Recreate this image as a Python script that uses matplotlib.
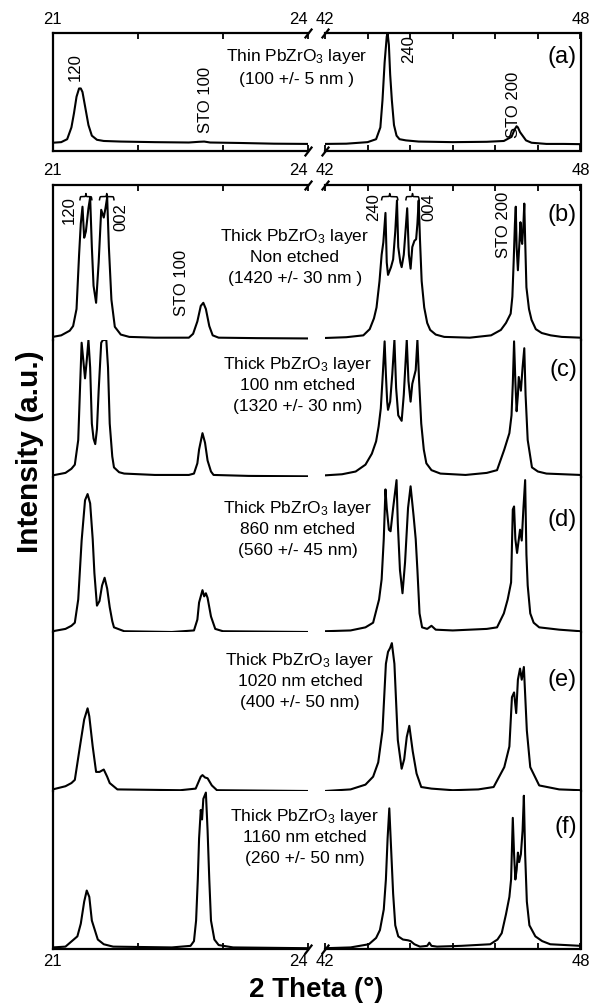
import numpy as np
import matplotlib
matplotlib.use("Agg")
import matplotlib.pyplot as plt
import matplotlib.transforms as mtransforms

plt.rcParams['font.family'] = ['Liberation Sans', 'DejaVu Sans']
plt.rcParams['mathtext.fontset'] = 'custom'
plt.rcParams['mathtext.rm'] = 'Liberation Sans'
plt.rcParams['mathtext.it'] = 'Liberation Sans'
plt.rcParams['mathtext.bf'] = 'Liberation Sans:bold'
plt.rcParams['mathtext.default'] = 'regular'

# ---------------- data (intensity in a.u., each trace scaled to its own band) ----------------
left_ticks = [21, 22, 23, 24]
right_ticks = [42, 43, 44, 45, 46, 47, 48]
left_tick_labels = {21: '21', 24: '24'}
right_tick_labels = {42: '42', 48: '48'}

# (a) thin layer
a_xL = [21.0, 21.1, 21.17, 21.22, 21.25, 21.28, 21.31, 21.33, 21.35, 21.38, 21.42, 21.46, 21.52, 21.6, 21.8, 22.2, 22.6, 22.72, 22.78, 22.85, 23.2, 23.6, 24.0]
a_yL = [0.07, 0.075, 0.10, 0.20, 0.32, 0.46, 0.53, 0.53, 0.50, 0.38, 0.22, 0.13, 0.095, 0.085, 0.08, 0.075, 0.072, 0.078, 0.08, 0.072, 0.068, 0.062, 0.06]
a_xR = [42.0, 42.5, 43.0, 43.2, 43.3, 43.35, 43.40, 43.45, 43.47, 43.50, 43.53, 43.57, 43.62, 43.68, 43.75, 43.9, 44.2, 45.0, 45.8, 46.2, 46.38, 46.45, 46.5, 46.53, 46.58, 46.64, 46.72, 46.85, 47.2, 47.6, 48.0]
a_yR = [0.06, 0.062, 0.075, 0.10, 0.20, 0.43, 0.75, 0.97, 1.0, 0.90, 0.65, 0.43, 0.22, 0.13, 0.10, 0.09, 0.08, 0.075, 0.078, 0.085, 0.12, 0.18, 0.21, 0.20, 0.16, 0.13, 0.09, 0.07, 0.06, 0.06, 0.058]

# (b) non etched
b_xL = [21.0, 21.1, 21.2, 21.24, 21.28, 21.31, 21.33, 21.35, 21.37, 21.39, 21.42, 21.44, 21.46, 21.48, 21.51, 21.54, 21.57, 21.60, 21.62, 21.64, 21.66, 21.69, 21.73, 21.8, 21.9, 22.2, 22.6, 22.65, 22.70, 22.74, 22.77, 22.80, 22.84, 22.88, 22.95, 23.4, 24.0]
b_yL = [0.02, 0.03, 0.06, 0.09, 0.20, 0.55, 0.75, 0.86, 0.66, 0.70, 0.85, 0.92, 0.60, 0.35, 0.24, 0.50, 0.84, 0.79, 0.85, 0.92, 0.60, 0.26, 0.085, 0.035, 0.02, 0.015, 0.015, 0.04, 0.12, 0.22, 0.24, 0.20, 0.09, 0.03, 0.015, 0.012, 0.01]
b_xR = [42.0, 42.5, 42.9, 43.05, 43.15, 43.21, 43.28, 43.33, 43.37, 43.42, 43.45, 43.48, 43.55, 43.60, 43.65, 43.69, 43.72, 43.77, 43.80, 43.85, 43.89, 43.93, 43.97, 44.01, 44.05, 44.10, 44.14, 44.17, 44.20, 44.23, 44.27, 44.33, 44.40, 44.47, 44.6, 44.8, 45.4, 45.9, 46.13, 46.25, 46.36, 46.40, 46.43, 46.46, 46.48, 46.50, 46.53, 46.56, 46.59, 46.61, 46.63, 46.66, 46.68, 46.70, 46.73, 46.79, 46.85, 46.95, 47.09, 47.3, 47.56, 48.0]
b_yR = [0.013, 0.018, 0.03, 0.07, 0.14, 0.21, 0.38, 0.55, 0.63, 0.82, 0.50, 0.42, 0.47, 0.52, 0.70, 0.90, 0.60, 0.50, 0.47, 0.55, 0.70, 0.85, 0.55, 0.46, 0.60, 0.64, 0.65, 0.75, 0.90, 0.65, 0.38, 0.21, 0.11, 0.065, 0.035, 0.02, 0.015, 0.03, 0.065, 0.11, 0.17, 0.28, 0.50, 0.75, 0.86, 0.60, 0.45, 0.60, 0.76, 0.65, 0.62, 0.75, 0.88, 0.65, 0.34, 0.20, 0.13, 0.07, 0.045, 0.03, 0.02, 0.015]

# (c) 100 nm etched
c_xL = [21.0, 21.15, 21.22, 21.26, 21.30, 21.32, 21.34, 21.36, 21.38, 21.40, 21.42, 21.44, 21.46, 21.48, 21.50, 21.52, 21.54, 21.57, 21.59, 21.63, 21.65, 21.67, 21.70, 21.72, 21.78, 21.84, 22.2, 22.6, 22.66, 22.70, 22.72, 22.76, 22.79, 22.82, 22.86, 22.89, 23.3, 24.0]
c_yL = [0.012, 0.03, 0.06, 0.09, 0.27, 0.63, 0.98, 0.85, 0.72, 0.85, 1.0, 0.80, 0.39, 0.28, 0.24, 0.35, 0.63, 0.98, 1.0, 1.0, 0.80, 0.39, 0.15, 0.07, 0.035, 0.025, 0.015, 0.015, 0.025, 0.10, 0.20, 0.32, 0.25, 0.12, 0.04, 0.015, 0.008, 0.005]
c_xR = [42.0, 42.4, 42.72, 42.95, 43.1, 43.2, 43.26, 43.31, 43.35, 43.40, 43.43, 43.46, 43.48, 43.53, 43.58, 43.63, 43.67, 43.72, 43.80, 43.85, 43.92, 43.96, 44.01, 44.05, 44.09, 44.13, 44.17, 44.21, 44.26, 44.32, 44.38, 44.5, 44.71, 45.3, 45.8, 46.04, 46.21, 46.33, 46.38, 46.41, 46.44, 46.47, 46.50, 46.53, 46.55, 46.60, 46.64, 46.68, 46.71, 46.76, 46.86, 47.0, 47.2, 48.0]
c_yR = [0.012, 0.02, 0.04, 0.09, 0.17, 0.26, 0.37, 0.50, 0.71, 0.99, 0.75, 0.55, 0.49, 0.55, 0.75, 1.0, 0.65, 0.45, 0.41, 0.60, 1.0, 0.70, 0.55, 0.68, 0.73, 0.78, 1.0, 0.70, 0.39, 0.20, 0.10, 0.05, 0.025, 0.015, 0.03, 0.05, 0.20, 0.32, 0.45, 0.68, 0.99, 0.70, 0.48, 0.60, 0.73, 0.63, 0.80, 0.94, 0.60, 0.27, 0.07, 0.04, 0.025, 0.015]

# (d) 860 nm etched
d_xL = [21.0, 21.15, 21.22, 21.26, 21.30, 21.34, 21.38, 21.41, 21.44, 21.47, 21.49, 21.52, 21.55, 21.58, 21.61, 21.64, 21.67, 21.70, 21.72, 21.84, 22.4, 22.66, 22.70, 22.72, 22.76, 22.78, 22.80, 22.82, 22.86, 22.91, 23.0, 24.0]
d_yL = [0.005, 0.02, 0.04, 0.06, 0.21, 0.59, 0.85, 0.89, 0.83, 0.60, 0.38, 0.17, 0.20, 0.30, 0.35, 0.28, 0.16, 0.07, 0.03, 0.005, 0.0, 0.01, 0.08, 0.19, 0.27, 0.23, 0.25, 0.22, 0.10, 0.02, 0.005, 0.0]
d_xR = [42.0, 42.6, 42.95, 43.13, 43.27, 43.33, 43.38, 43.42, 43.45, 43.50, 43.54, 43.60, 43.68, 43.71, 43.76, 43.82, 43.88, 43.95, 44.01, 44.08, 44.13, 44.17, 44.22, 44.28, 44.4, 44.5, 44.6, 45.0, 45.8, 46.04, 46.2, 46.29, 46.37, 46.41, 46.44, 46.47, 46.51, 46.58, 46.62, 46.66, 46.70, 46.73, 46.76, 46.82, 46.9, 47.03, 47.5, 48.0]
d_yR = [0.005, 0.01, 0.03, 0.06, 0.21, 0.34, 0.60, 0.92, 0.80, 0.66, 0.65, 0.80, 0.98, 0.70, 0.40, 0.25, 0.45, 0.80, 0.94, 0.75, 0.60, 0.40, 0.12, 0.03, 0.02, 0.04, 0.015, 0.01, 0.02, 0.03, 0.12, 0.21, 0.32, 0.79, 0.81, 0.60, 0.51, 0.66, 0.59, 0.80, 0.98, 0.50, 0.30, 0.12, 0.06, 0.03, 0.015, 0.005]

# (e) 1020 nm etched
e_xL = [21.0, 21.15, 21.22, 21.26, 21.32, 21.37, 21.41, 21.43, 21.47, 21.51, 21.55, 21.60, 21.64, 21.67, 21.76, 22.5, 22.68, 22.74, 22.76, 22.79, 22.82, 22.87, 22.93, 24.0]
e_yL = [0.01, 0.03, 0.05, 0.07, 0.28, 0.45, 0.52, 0.47, 0.28, 0.12, 0.12, 0.135, 0.09, 0.05, 0.01, 0.005, 0.015, 0.09, 0.10, 0.085, 0.08, 0.035, 0.005, 0.0]
e_xR = [42.0, 42.6, 42.95, 43.13, 43.25, 43.35, 43.43, 43.48, 43.53, 43.57, 43.63, 43.71, 43.80, 43.86, 43.92, 43.98, 44.02, 44.06, 44.15, 44.26, 44.5, 45.0, 45.6, 45.96, 46.21, 46.33, 46.39, 46.44, 46.49, 46.53, 46.58, 46.62, 46.67, 46.74, 46.82, 47.03, 47.5, 48.0]
e_yR = [0.0, 0.01, 0.04, 0.09, 0.18, 0.38, 0.80, 0.875, 0.90, 0.93, 0.80, 0.32, 0.14, 0.20, 0.34, 0.41, 0.33, 0.25, 0.11, 0.025, 0.015, 0.005, 0.01, 0.025, 0.15, 0.28, 0.59, 0.62, 0.49, 0.70, 0.77, 0.70, 0.78, 0.38, 0.15, 0.035, 0.01, 0.005]

# (f) 1160 nm etched
f_xL = [21.0, 21.15, 21.29, 21.33, 21.37, 21.40, 21.43, 21.46, 21.53, 21.6, 21.71, 22.4, 22.62, 22.66, 22.685, 22.705, 22.72, 22.74, 22.755, 22.77, 22.80, 22.82, 22.84, 22.86, 22.90, 22.95, 23.12, 24.0]
f_yL = [0.01, 0.015, 0.08, 0.16, 0.30, 0.37, 0.33, 0.18, 0.06, 0.03, 0.015, 0.01, 0.02, 0.05, 0.18, 0.44, 0.70, 0.88, 0.82, 0.95, 0.99, 0.75, 0.44, 0.18, 0.06, 0.025, 0.01, 0.005]
f_xR = [42.0, 42.6, 43.03, 43.2, 43.29, 43.38, 43.43, 43.47, 43.51, 43.55, 43.60, 43.65, 43.72, 43.83, 43.95, 44.01, 44.1, 44.23, 44.40, 44.45, 44.50, 44.63, 45.2, 45.88, 46.05, 46.15, 46.25, 46.33, 46.37, 46.41, 46.44, 46.47, 46.50, 46.53, 46.56, 46.60, 46.64, 46.67, 46.70, 46.74, 46.80, 46.94, 47.1, 47.29, 48.0]
f_yR = [0.005, 0.01, 0.03, 0.07, 0.12, 0.25, 0.44, 0.70, 0.89, 0.65, 0.35, 0.15, 0.08, 0.06, 0.055, 0.05, 0.03, 0.015, 0.02, 0.04, 0.02, 0.015, 0.02, 0.03, 0.06, 0.10, 0.22, 0.33, 0.44, 0.83, 0.60, 0.44, 0.50, 0.61, 0.55, 0.60, 0.75, 0.97, 0.60, 0.30, 0.15, 0.08, 0.05, 0.03, 0.02]

panel_letters = ['(a)', '(b)', '(c)', '(d)', '(e)', '(f)']
panel_text = [
    ['Thin PbZrO$_3$ layer', '(100 +/- 5 nm )'],
    ['Thick PbZrO$_3$ layer', 'Non etched', '(1420 +/- 30 nm )'],
    ['Thick PbZrO$_3$ layer', '100 nm etched', '(1320 +/- 30 nm)'],
    ['Thick PbZrO$_3$ layer', '860 nm etched', '(560 +/- 45 nm)'],
    ['Thick PbZrO$_3$ layer', '1020 nm etched', '(400 +/- 50 nm)'],
    ['Thick PbZrO$_3$ layer', '1160 nm etched', '(260 +/- 50 nm)'],
]

# ---------------- layout (pixel geometry of the figure) ----------------
W, H = 590, 1008
fig = plt.figure(figsize=(W / 100, H / 100), dpi=100)


def fx(px):
    return px / W


def fy(py):
    return 1 - py / H


xL0, xL1, xR0, xR1 = 52.7, 308.0, 325.0, 580.5
a_top, a_bot = 33, 151
band_edges = [185, 340, 477, 632, 791, 949]

LW = 1.5
SPW = 1.6
TICK_FS = 12


def make_pair(top, bot):
    axl = fig.add_axes([fx(xL0), fy(bot), fx(xL1 - xL0), (bot - top) / H])
    axr = fig.add_axes([fx(xR0), fy(bot), fx(xR1 - xR0), (bot - top) / H])
    axl.set_xlim(21, 24)
    axr.set_xlim(42, 48)
    for ax in (axl, axr):
        ax.set_ylim(0, 1)
        ax.set_facecolor('none')
        for s in ax.spines.values():
            s.set_linewidth(SPW)
    axl.spines['right'].set_visible(False)
    axr.spines['left'].set_visible(False)
    axl.set_xticks(left_ticks)
    axr.set_xticks(right_ticks)
    return axl, axr


def style(axl, axr, top, bottom):
    for ax in (axl, axr):
        ax.spines['top'].set_visible(top)
        ax.spines['bottom'].set_visible(bottom)
        ax.tick_params(axis='x', direction='in', length=4, width=1.3,
                       top=top, bottom=bottom, labeltop=False, labelbottom=False)
        ax.tick_params(axis='y', left=False, right=False, labelleft=False)
    kw = dict(marker=[(-1, -1.3), (1, 1.3)], markersize=7, linestyle='none',
              color='k', mec='k', mew=1.6, clip_on=False)
    if top:
        axl.plot([1], [1], transform=axl.transAxes, **kw)
        axr.plot([0], [1], transform=axr.transAxes, **kw)
    if bottom:
        axl.plot([1], [0], transform=axl.transAxes, **kw)
        axr.plot([0], [0], transform=axr.transAxes, **kw)


def tick_row(axl, axr, ypx):
    for ax, labels in ((axl, left_tick_labels), (axr, right_tick_labels)):
        tr = mtransforms.blended_transform_factory(ax.transData, fig.transFigure)
        for val, s in labels.items():
            ha = 'right' if val == 24 else 'center'
            ax.text(val, fy(ypx), s, transform=tr, ha=ha, va='center',
                    fontsize=TICK_FS, clip_on=False)


def brace(ax, x0, x1, y, h):
    n = 200
    t = np.linspace(0, 0.5, n)
    beta = 60.0
    yh = 1 / (1 + np.exp(-beta * (t - t[0]))) + 1 / (1 + np.exp(-beta * (t - t[-1])))
    yh = yh - 0.5
    xs = np.concatenate([t, 1 - t[::-1]])
    ys = np.concatenate([yh, yh[::-1]])
    ax.plot(x0 + xs * (x1 - x0), y + ys * h, color='k', lw=1.1, clip_on=False)


# ---- panel (a)
axA_L, axA_R = make_pair(a_top, a_bot)
style(axA_L, axA_R, True, True)
tick_row(axA_L, axA_R, 20)
axA_L.plot(a_xL, a_yL, color='k', lw=LW)
axA_R.plot(a_xR, a_yR, color='k', lw=LW)
pk = dict(rotation=90, ha='center', va='center', fontsize=12)
axA_L.text(21.26, 0.71, '120', **pk)
axA_L.text(22.80, 0.43, 'STO 100', **pk)
axA_R.text(43.96, 0.86, '240', **pk)
axA_R.text(46.42, 0.39, 'STO 200', **pk)

# ---- panels (b)-(f)
traces = [(b_xL, b_yL, b_xR, b_yR), (c_xL, c_yL, c_xR, c_yR), (d_xL, d_yL, d_xR, d_yR),
          (e_xL, e_yL, e_xR, e_yR), (f_xL, f_yL, f_xR, f_yR)]
band_axes = []
for i, (xl, yl, xr, yr) in enumerate(traces):
    top, bot = band_edges[i], band_edges[i + 1]
    axl, axr = make_pair(top, bot)
    style(axl, axr, i == 0, i == 4)
    axl.plot(xl, yl, color='k', lw=LW)
    axr.plot(xr, yr, color='k', lw=LW)
    band_axes.append((axl, axr))

tick_row(*band_axes[0], 170)
tick_row(*band_axes[4], 961)

bL, bR = band_axes[0]
bL.text(21.20, 0.84, '120', **pk)
bL.text(21.80, 0.79, '002', **pk)
bL.text(22.51, 0.37, 'STO 100', **pk)
bR.text(43.15, 0.86, '240', **pk)
bR.text(44.43, 0.86, '004', **pk)
bR.text(46.19, 0.74, 'STO 200', **pk)
brace(bL, 21.32, 21.46, 0.905, 0.04)
brace(bL, 21.55, 21.72, 0.905, 0.04)
brace(bR, 43.33, 43.71, 0.905, 0.04)
brace(bR, 43.90, 44.21, 0.905, 0.04)

# ---- descriptive texts
text_lines_y = [[57, 80], [236, 257, 278], [364, 385, 406], [509, 530, 551], [661, 682, 703], [816, 837, 858]]
text_x = [297, 295, 298, 298, 300, 305]
letter_y = [57, 215, 370, 520, 680, 827]
for k in range(6):
    for line, yy in zip(panel_text[k], text_lines_y[k]):
        fig.text(fx(text_x[k]), fy(yy), line, ha='center', va='center', fontsize=12.5)
    fig.text(fx(577), fy(letter_y[k]), panel_letters[k], ha='right', va='center', fontsize=17)

# ---- axis titles
fig.text(fx(316), fy(990), '2 Theta (°)', ha='center', va='center', fontsize=20, fontweight='bold')
fig.text(fx(30), fy(452), 'Intensity (a.u.)', ha='center', va='center', rotation=90,
         fontsize=21.5, fontweight='bold')

fig.savefig('out.png', dpi=100)
